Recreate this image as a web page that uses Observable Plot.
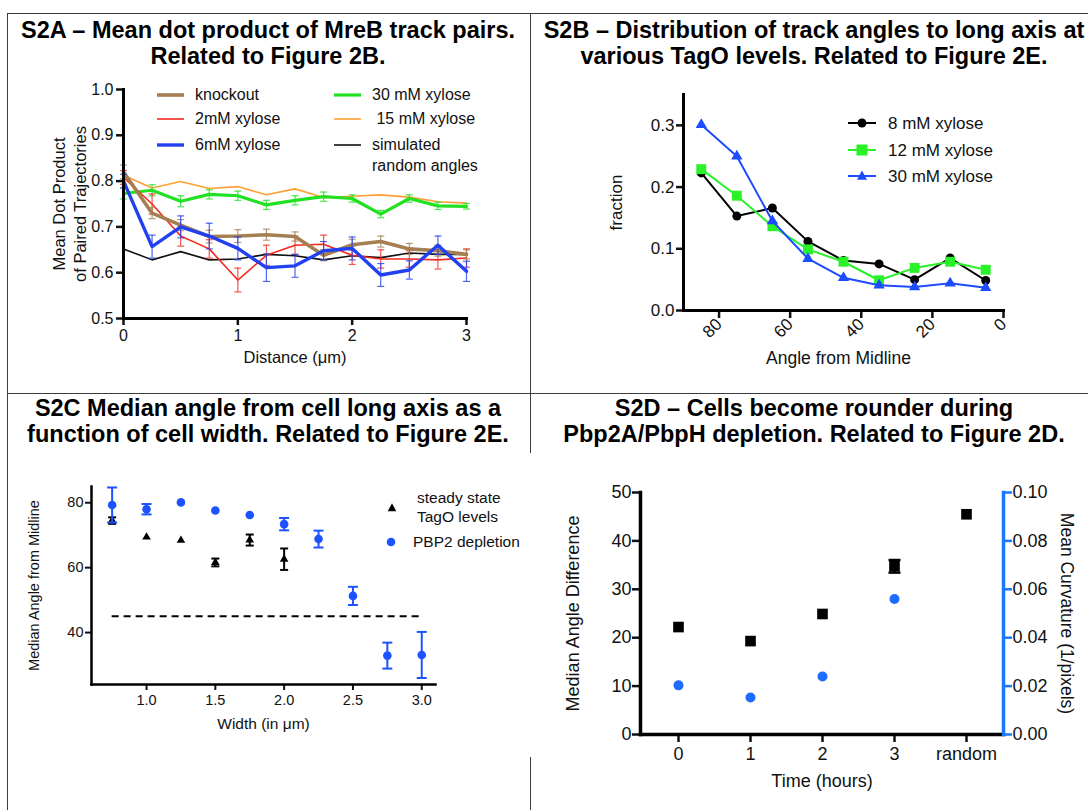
<!DOCTYPE html>
<html><head><meta charset="utf-8">
<script src="https://cdn.jsdelivr.net/npm/d3@7"></script>
<script src="https://cdn.jsdelivr.net/npm/@observablehq/plot@0.6"></script>
<style>
body{margin:0;background:#fff;}
#page{position:relative;width:1088px;height:810px;overflow:hidden;font-family:"Liberation Sans",Arial,Helvetica,sans-serif;color:#111;background:#fff;}
.title{position:absolute;font-weight:bold;font-size:23.5px;line-height:26px;text-align:center;white-space:nowrap;transform:translateX(-50%);color:#000;}
.leg{position:absolute;white-space:pre;line-height:1;color:#111;}
.plot{position:absolute;}
</style></head><body><div id="page"></div>
<script>
// ---------------- DATA ----------------
// S2A
const distance = [0,0.25,0.5,0.75,1,1.25,1.5,1.75,2,2.25,2.5,2.75,3];
const knockout    = [0.820,0.730,0.704,0.679,0.680,0.683,0.679,0.638,0.661,0.668,0.652,0.648,0.640];
const knockoutErr = [0.015,0.012,0.012,0.014,0.014,0.012,0.010,0.012,0.012,0.012,0.012,0.012,0.010];
const xylose2     = [0.808,0.750,0.680,0.652,0.584,0.638,0.660,0.662,0.638,0.630,0.630,0.628,0.632];
const xylose2Err  = [0.015,0.022,0.022,0.020,0.026,0.022,0.020,0.020,0.020,0.020,0.018,0.020,0.020];
const xylose6     = [0.800,0.657,0.700,0.680,0.653,0.611,0.615,0.648,0.653,0.595,0.606,0.660,0.603];
const xylose6Err  = [0.015,0.025,0.024,0.028,0.025,0.030,0.025,0.020,0.025,0.025,0.020,0.020,0.022];
const xylose30    = [0.773,0.780,0.756,0.771,0.768,0.748,0.758,0.766,0.762,0.728,0.762,0.746,0.745];
const xylose30Err = [0.012,0.012,0.012,0.010,0.010,0.010,0.010,0.010,0.008,0.008,0.008,0.008,0.006];
const xylose15    = [0.813,0.785,0.799,0.784,0.788,0.770,0.783,0.764,0.767,0.770,0.765,0.755,0.752];
const simulated   = [0.652,0.628,0.646,0.628,0.630,0.640,0.637,0.628,0.637,0.633,0.643,0.640,0.640];
const ticksA_x = [0,1,2,3];
const ticksA_y = [0.5,0.6,0.7,0.8,0.9,1.0];

// S2B
const angleBins = [85,75,65,55,45,35,25,15,5];
const frac8  = [0.223,0.153,0.166,0.112,0.081,0.0755,0.050,0.085,0.0486];
const frac12 = [0.229,0.186,0.1365,0.099,0.079,0.049,0.069,0.079,0.066];
const frac30 = [0.301,0.250,0.145,0.084,0.053,0.041,0.038,0.044,0.037];
const ticksB_x = [80,60,40,20,0];
const ticksB_y = [0,0.1,0.2,0.3];

// S2C
const widthSteady = [0.75,1.0,1.25,1.5,1.75,2.0];
const angleSteady = [74.5,69.4,68.4,61.6,68.5,62.6];
const errSteady   = [1.0,0,0,1.2,1.7,3.3];
const widthPbp2 = [0.75,1.0,1.25,1.5,1.75,2.0,2.25,2.5,2.75,3.0];
const anglePbp2 = [79.3,78.0,80.1,77.6,76.2,73.4,68.8,51.3,32.9,33.1];
const errPbp2   = [5.4,1.6,0,0,0,1.9,2.6,2.8,4.0,7.1];
const randomLine = [{y:45, x1:0.75, x2:3.0}];
const ticksC_x = [1.0,1.5,2.0,2.5,3.0];
const ticksC_y = [40,60,80];

// S2D
const timeLabels   = ["0","1","2","3","random"];
const angleDiff    = [22.2,19.3,24.9,34.75,45.5];
const angleDiffErr = [0,0,0,1.3,0];
const curvTimes    = ["0","1","2","3"];
const curvature    = [0.0203,0.0153,0.024,0.056];
const ticksD_left  = [0,10,20,30,40,50];
const ticksD_right = [0,0.02,0.04,0.06,0.08,0.10];

// ---------------- HELPERS ----------------
const FONT = '"Liberation Sans", Arial, Helvetica, sans-serif';
const page = document.getElementById("page");
const style = fs => ({fontFamily: FONT, fontSize: fs + "px", color: "#111", background: "transparent", overflow: "visible"});

function rule(left, top, w, h) {
  const d = document.createElement("div");
  d.style.cssText = `position:absolute;left:${left}px;top:${top}px;width:${w}px;height:${h}px;background:#3c3c3c;`;
  page.appendChild(d);
}
function title(lines, cx, top) {
  const d = document.createElement("div");
  d.className = "title";
  d.innerHTML = lines.join("<br>");
  d.style.left = cx + "px"; d.style.top = top + "px";
  page.appendChild(d);
}
function place(svg, left, top) {
  svg.classList.add("plot");
  svg.style.position = "absolute";
  svg.style.left = left + "px"; svg.style.top = top + "px";
  page.appendChild(svg);
}
function legText(txt, x, yc, fs) {
  const d = document.createElement("div");
  d.className = "leg";
  d.textContent = txt;
  d.style.left = x + "px"; d.style.top = yc + "px"; d.style.fontSize = fs + "px";
  d.style.transform = "translateY(-50%)";
  page.appendChild(d);
}
function legSwatch(x, yc, w, color, sw, marker, ms) {
  const h = 20;
  let m = "";
  const cx = w / 2, cy = h / 2;
  if (marker === "circle") m = `<circle cx="${cx}" cy="${cy}" r="${ms}" fill="${color}"/>`;
  if (marker === "square") m = `<rect x="${cx-ms}" y="${cy-ms}" width="${2*ms}" height="${2*ms}" fill="${color}"/>`;
  if (marker === "triangle") m = `<path d="M${cx},${cy-ms*1.1}L${cx+ms},${cy+ms*0.75}L${cx-ms},${cy+ms*0.75}Z" fill="${color}"/>`;
  const ln = sw > 0 ? `<line x1="0" y1="${cy}" x2="${w}" y2="${cy}" stroke="${color}" stroke-width="${sw}"/>` : "";
  const d = document.createElement("div");
  d.style.cssText = `position:absolute;left:${x}px;top:${yc - h/2}px;width:${w}px;height:${h}px;`;
  d.innerHTML = `<svg width="${w}" height="${h}" style="overflow:visible">${ln}${m}</svg>`;
  page.appendChild(d);
}
const capSymbol = {draw(ctx, size) { const r = Math.sqrt(size / Math.PI); ctx.moveTo(-r, 0); ctx.lineTo(r, 0); }};
function errorBars(rows, stroke, strokeWidth, capR, opacity = 1) {
  const d = rows.filter(p => p.e > 0);
  const o = {stroke, strokeWidth, strokeOpacity: opacity};
  return [
    Plot.ruleX(d, {x: "x", y1: p => p.y - p.e, y2: p => p.y + p.e, ...o}),
    Plot.dot(d, {x: "x", y: p => p.y - p.e, symbol: capSymbol, r: capR, fill: "none", ...o}),
    Plot.dot(d, {x: "x", y: p => p.y + p.e, symbol: capSymbol, r: capR, fill: "none", ...o})
  ];
}
const zipRows = (xs, ys, es) => xs.map((x, i) => ({x, y: ys[i], e: es ? es[i] : 0}));

// ---------------- FRAME / TITLES ----------------
rule(7, 13, 1081, 1);
rule(7, 13, 1, 797);
rule(7, 393, 1081, 1);
rule(530, 13, 1, 440);
rule(530, 757, 1, 53);

title(["S2A – Mean dot product of MreB track pairs.", "Related to Figure 2B."], 268, 17);
title(["S2B – Distribution of track angles to long axis at", "various TagO levels. Related to Figure 2E."], 814, 17);
title(["S2C Median angle from cell long axis as a", "function of cell width. Related to Figure 2E."], 268, 395);
title(["S2D – Cells become rounder during", "Pbp2A/PbpH depletion. Related to Figure 2D."], 814, 395);

// ---------------- S2A ----------------
const seriesA = [
  {vals: xylose15, errs: null, color: "#ffa033", w: 1.6},
  {vals: xylose30, errs: xylose30Err, color: "#22e022", w: 3.2},
  {vals: simulated, errs: null, color: "#111111", w: 1.6},
  {vals: xylose2, errs: xylose2Err, color: "#f52a1e", w: 1.6},
  {vals: knockout, errs: knockoutErr, color: "#a57f52", w: 3.6},
  {vals: xylose6, errs: xylose6Err, color: "#2140f0", w: 3.4}
];
const marksA = [];
for (const s of seriesA) {
  const rows = zipRows(distance, s.vals, s.errs);
  if (s.errs) marksA.push(...errorBars(rows, s.color, 1.2, 3.5, 0.8));
  marksA.push(Plot.line(rows, {x: "x", y: "y", stroke: s.color, strokeWidth: s.w, strokeLinejoin: "round"}));
}
const plotA = Plot.plot({
  width: 530, height: 320, marginLeft: 123, marginRight: 64, marginTop: 19, marginBottom: 72,
  style: style(16),
  x: {domain: [0, 3]}, y: {domain: [0.5, 1.0]},
  marks: [
    Plot.axisX({ticks: ticksA_x, tickFormat: d3.format("d"), tickSize: 7, tickPadding: 4, strokeWidth: 2.5, label: null}),
    Plot.axisY({ticks: ticksA_y, tickFormat: d3.format(".1f"), tickSize: 7, tickPadding: 3, strokeWidth: 2.5, label: null}),
    ...marksA,
    Plot.frame({anchor: "left", strokeWidth: 3, stroke: "#000"}),
    Plot.frame({anchor: "bottom", strokeWidth: 3, stroke: "#000"}),
    Plot.text(["Mean Dot Product\nof Paired Trajectories"], {text: d => d, frameAnchor: "left", rotate: -90, dx: -55, lineHeight: 1.3, fontSize: 16.5, textAnchor: "middle"}),
    Plot.text(["Distance (μm)"], {text: d => d, frameAnchor: "bottom", dy: 44, fontSize: 16.5, textAnchor: "middle"})
  ]
});
place(plotA, 0, 70);
// legend A
legSwatch(157, 95, 27, "#a57f52", 3.6); legText("knockout", 195, 95, 16);
legSwatch(157, 119, 27, "#f52a1e", 1.6); legText("2mM xylose", 195, 119, 16);
legSwatch(157, 145, 27, "#2140f0", 3.4); legText("6mM xylose", 195, 145, 16);
legSwatch(334, 95, 27, "#22e022", 3.2); legText("30 mM xylose", 372, 95, 16);
legSwatch(334, 119, 27, "#ffa033", 1.6); legText(" 15 mM xylose", 372, 119, 16);
legSwatch(334, 145, 27, "#111111", 1.6); legText("simulated", 372, 145, 16);
legText("random angles", 372, 166, 16);

// ---------------- S2B ----------------
const seriesB = [
  {vals: frac8, color: "#000000", symbol: "circle", r: 4.5},
  {vals: frac12, color: "#29f229", symbol: "square", r: 5.6},
  {vals: frac30, color: "#1d4cff", symbol: "triangle", r: 4.2}
];
const marksB = [];
for (const s of seriesB) {
  const rows = zipRows(angleBins, s.vals);
  marksB.push(Plot.line(rows, {x: "x", y: "y", stroke: s.color, strokeWidth: 2}));
  marksB.push(Plot.dot(rows, {x: "x", y: "y", symbol: s.symbol, r: s.r, fill: s.color, stroke: "none"}));
}
const plotB = Plot.plot({
  width: 558, height: 320, marginLeft: 153, marginRight: 85, marginTop: 24, marginBottom: 80,
  style: style(17),
  x: {domain: [90, 0]}, y: {domain: [0, 0.35]},
  marks: [
    Plot.axisX({ticks: ticksB_x, tickFormat: d3.format("d"), tickSize: 8, tickPadding: 3, strokeWidth: 2.5, tickRotate: -45, label: null}),
    Plot.axisY({ticks: ticksB_y, tickFormat: d3.format(".1f"), tickSize: 7, tickPadding: 2, strokeWidth: 2.5, label: null}),
    ...marksB,
    Plot.frame({anchor: "left", strokeWidth: 3, stroke: "#000"}),
    Plot.frame({anchor: "bottom", strokeWidth: 3, stroke: "#000"}),
    Plot.text(["fraction"], {text: d => d, frameAnchor: "left", rotate: -90, dx: -67, fontSize: 17, textAnchor: "middle"}),
    Plot.text(["Angle from Midline"], {text: d => d, frameAnchor: "bottom", dy: 53, dx: -5, fontSize: 17.5, textAnchor: "middle"})
  ]
});
place(plotB, 530, 70);
legSwatch(848, 123, 28, "#000000", 2, "circle", 4.5); legText("8 mM xylose", 888, 123, 17);
legSwatch(848, 150, 28, "#29f229", 2, "square", 5.5); legText("12 mM xylose", 888, 150, 17);
legSwatch(848, 176, 28, "#1d4cff", 2, "triangle", 5); legText("30 mM xylose", 888, 176, 17);

// ---------------- S2C ----------------
const blueC = "#1d52ff";
const steadyRows = zipRows(widthSteady, angleSteady, errSteady);
const pbpRows = zipRows(widthPbp2, anglePbp2, errPbp2);
const plotC = Plot.plot({
  width: 530, height: 340, marginLeft: 91, marginRight: 95, marginTop: 16, marginBottom: 126,
  style: style(14.5),
  x: {domain: [0.6, 3.1]}, y: {domain: [24, 85]},
  marks: [
    Plot.axisX({ticks: ticksC_x, tickFormat: d3.format(".1f"), tickSize: 6, tickPadding: 4, strokeWidth: 2, label: null}),
    Plot.axisY({ticks: ticksC_y, tickFormat: d3.format("d"), tickSize: 6, tickPadding: 2, strokeWidth: 2, label: null}),
    Plot.ruleY(randomLine, {y: "y", x1: "x1", x2: "x2", stroke: "#000", strokeWidth: 2, strokeDasharray: "7,5"}),
    ...errorBars(steadyRows, "#000", 2, 4),
    Plot.dot(steadyRows, {x: "x", y: "y", symbol: "triangle", r: 3.2, fill: "#000", stroke: "none"}),
    ...errorBars(pbpRows, blueC, 2, 5),
    Plot.dot(pbpRows, {x: "x", y: "y", symbol: "circle", r: 4.3, fill: blueC, stroke: "none"}),
    Plot.frame({anchor: "left", strokeWidth: 2.5, stroke: "#000"}),
    Plot.frame({anchor: "bottom", strokeWidth: 2.5, stroke: "#000"}),
    Plot.text(["Median Angle from Midline"], {text: d => d, frameAnchor: "left", rotate: -90, dx: -57, fontSize: 14.5, textAnchor: "middle"}),
    Plot.text(["Width (in μm)"], {text: d => d, frameAnchor: "bottom", dy: 44, fontSize: 15.5, textAnchor: "middle"})
  ]
});
place(plotC, 0, 470);
legSwatch(382, 508, 20, "#000", 0, "triangle", 4.3);
legText("steady state", 417, 498, 15.5); legText("TagO levels", 417, 517, 15.5);
legSwatch(381, 542, 20, blueC, 0, "circle", 4.3);
legText("PBP2 depletion", 413, 542, 15.5);

// ---------------- S2D ----------------
const blueD = "#1f6bff";
const blueAxis = "#1a78ff";
const diffRows = zipRows(timeLabels, angleDiff, angleDiffErr);
const curvRows = zipRows(curvTimes, curvature);
const dimsD = {width: 558, height: 340, marginLeft: 110, marginRight: 85, marginTop: 22, marginBottom: 76};
const plotD = Plot.plot({
  ...dimsD, style: style(18),
  x: {type: "point", domain: timeLabels, padding: 0.5}, y: {domain: [0, 50]},
  marks: [
    Plot.axisX({tickSize: 8, tickPadding: 5, strokeWidth: 2.5, label: null}),
    Plot.axisY({ticks: ticksD_left, tickFormat: d3.format("d"), tickSize: 8, tickPadding: 1, strokeWidth: 2.5, label: null}),
    ...errorBars(diffRows, "#000", 2.5, 6),
    Plot.dot(diffRows, {x: "x", y: "y", symbol: "square", r: 6, fill: "#000", stroke: "none"}),
    Plot.frame({anchor: "left", strokeWidth: 3.5, stroke: "#000"}),
    Plot.frame({anchor: "bottom", strokeWidth: 3.5, stroke: "#000"}),
    Plot.text(["Median Angle Difference"], {text: d => d, frameAnchor: "left", rotate: -90, dx: -67, fontSize: 18, textAnchor: "middle"}),
    Plot.text(["Time (hours)"], {text: d => d, frameAnchor: "bottom", dy: 52, fontSize: 18, textAnchor: "middle"})
  ]
});
place(plotD, 530, 470);
const plotD2 = Plot.plot({
  ...dimsD, style: style(18),
  x: {type: "point", domain: timeLabels, padding: 0.5, axis: null}, y: {domain: [0, 0.1]},
  marks: [
    Plot.axisY({anchor: "right", ticks: ticksD_right, tickFormat: d3.format(".2f"), tickSize: 8, tickPadding: 1, strokeWidth: 2.5, stroke: blueAxis, label: null}),
    Plot.dot(curvRows, {x: "x", y: "y", symbol: "circle", r: 5, fill: blueD, stroke: "none"}),
    Plot.frame({anchor: "right", strokeWidth: 3.5, stroke: blueAxis}),
    Plot.text(["Mean Curvature (1/pixels)"], {text: d => d, frameAnchor: "right", rotate: 90, dx: 63, fontSize: 17.5, textAnchor: "middle"})
  ]
});
place(plotD2, 530, 470);
</script></body></html>
